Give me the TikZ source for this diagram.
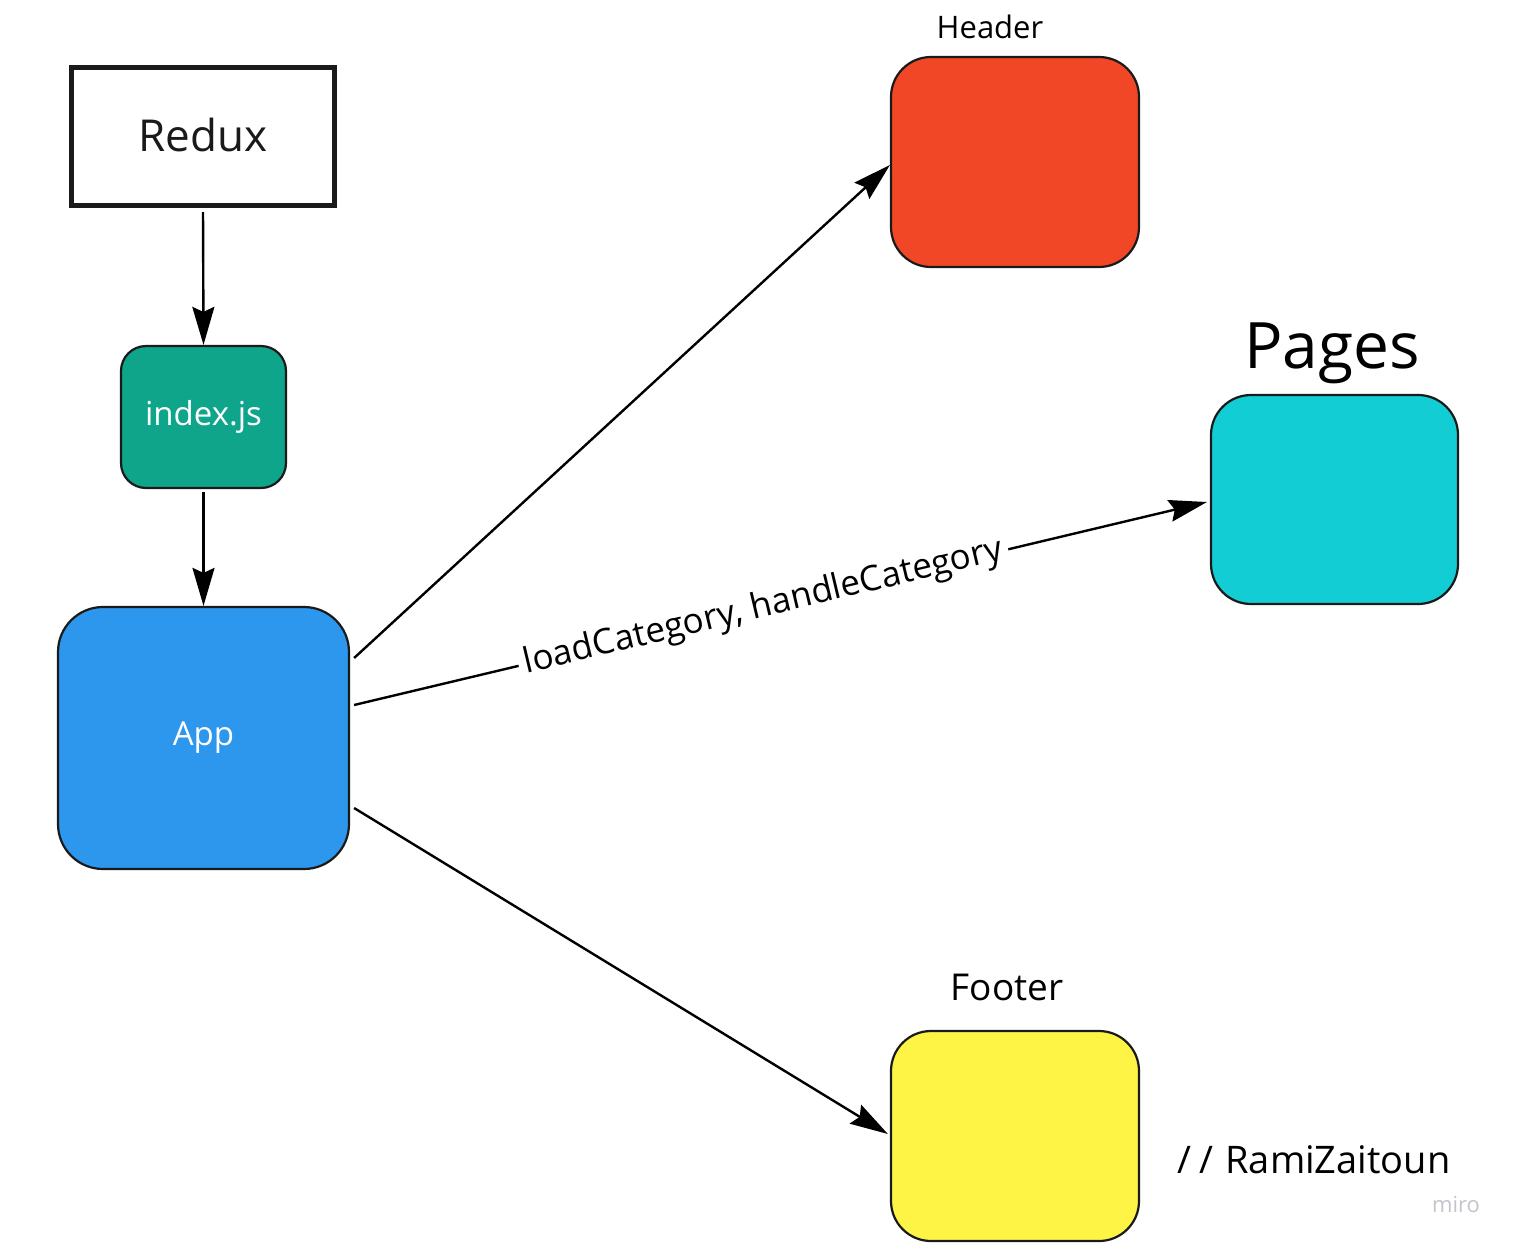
\documentclass[tikz,border=0pt]{standalone}
\usepackage{fontspec}
\setmainfont{Open Sans}
\usetikzlibrary{arrows.meta,calc}
\definecolor{cteal}{HTML}{0FA58A}
\definecolor{cblue}{HTML}{2D96ED}
\definecolor{cred}{HTML}{F24726}
\definecolor{ccyan}{HTML}{12CDD4}
\definecolor{cyellow}{HTML}{FEF445}
\definecolor{cedge}{HTML}{1A1A1A}
\definecolor{cmiro}{HTML}{C4C4CC}
\newcommand{\fsz}[1]{\fontsize{#1}{#1}\selectfont}
\tikzset{
  box/.style={draw=cedge, line width=2.2pt, minimum width=248pt, minimum height=210pt, rounded corners=40pt, inner sep=0pt},
  arr/.style={line width=2.4pt, -{Stealth[length=38pt,width=22pt,inset=5pt]}},
  lbl/.style={text=black, inner sep=0pt}
}
\begin{document}
\begin{tikzpicture}[x=1pt,y=1pt]
\useasboundingbox[fill=white] (0,0) rectangle (1515,-1247);
% nodes
\node[draw=cedge, line width=5pt, minimum width=263pt, minimum height=138pt, inner sep=0pt, text=cedge, font=\fsz{44}] (redux) at (203,-136.5) {\raisebox{4pt}{Redux}};
\node[box, fill=cteal, minimum width=165pt, minimum height=142pt, rounded corners=25pt, text=white, font=\fsz{33}] (index) at (203.5,-417) {index.js};
\node[box, fill=cblue, minimum width=291pt, minimum height=262pt, rounded corners=45pt, text=white, font=\fsz{33}] (app) at (203.5,-738) {App};
\node[box, fill=cred] (header) at (1015,-162) {};
\node[box, fill=ccyan, minimum width=247pt, minimum height=209pt] (pages) at (1334.5,-499.5) {};
\node[box, fill=cyellow] (footer) at (1015,-1136) {};
% labels
\node[lbl, font=\fsz{31}] (headerlbl) at (990,-27) {Header};
\node[lbl, font=\fsz{64}] (pageslbl) at (1332,-353) {Pages};
\node[lbl, font=\fsz{37}] (footerlbl) at (1007,-987) {Footer};
\node[lbl, font=\fsz{38}] (sig) at (1314,-1160) {/\kern8pt/\kern12pt RamiZaitoun};
\node[lbl, text=cmiro, font=\fsz{22}] (miro) at (1456,-1205) {miro};
% connectors
\draw[arr, shorten <=4pt] (redux.south) -- (index.north);
\draw[arr, shorten <=3pt] (index.south) -- (app.north);
\draw[arr] ([xshift=4pt,yshift=80pt]app.east) -- ([yshift=-3pt]header.west);
\draw[arr] ([xshift=4pt,yshift=33pt]app.east) -- node[sloped, fill=white, inner xsep=6pt, inner ysep=4pt, font=\fsz{35}, pos=0.48] (edgelbl) {loadCategory, handleCategory} ([xshift=-3pt,yshift=-2.5pt]pages.west);
\draw[arr] ([xshift=4pt,yshift=-70pt]app.east) -- ([xshift=-2pt,yshift=2pt]footer.west);
\end{tikzpicture}
\end{document}
